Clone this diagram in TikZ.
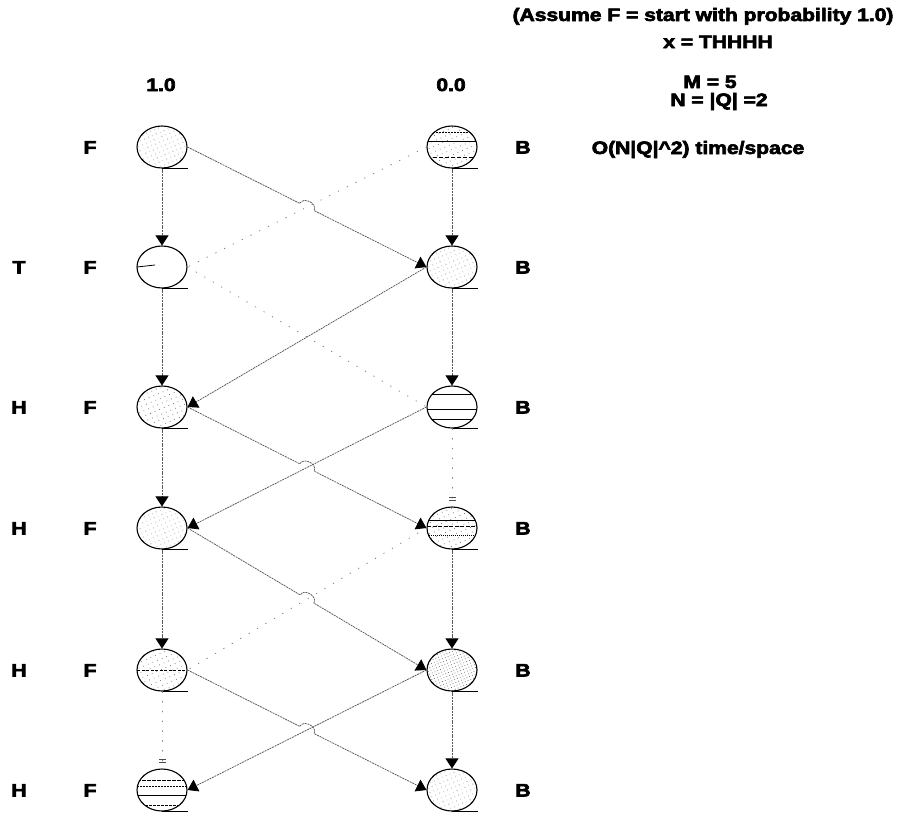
\documentclass[tikz,border=0pt]{standalone}
\usepackage{fontspec}
\setmainfont{Liberation Sans}
\newfontfamily\heavyfont[FakeBold=3.2]{Liberation Sans Bold}
\usetikzlibrary{shapes.geometric,arrows.meta,calc,patterns.meta}

% heavy, slightly widened bold lettering
\newcommand\wide[1]{\scalebox{1.17}[1]{#1}}

\begin{document}
\begin{tikzpicture}[x=1pt,y=-1pt,
  state/.style={ellipse, draw=black, line width=1.1pt, minimum width=50pt,
    minimum height=42pt, inner sep=0pt},
  lbl/.style={font=\fontsize{18}{21}\heavyfont, inner sep=0pt, anchor=base},
  link/.style={draw=black!65, line width=0.75pt, dash pattern=on 2pt off 0.8pt,
    -{Triangle[width=13pt,length=10pt,color=black]}},
  faint/.style={draw=black!50, line width=0.8pt, dash pattern=on 0.8pt off 9pt, line cap=round},
  stub/.style={faint, shorten >=6pt,
    -{Bar[width=7pt,line width=0.8pt,color=black!70,sep=1.5pt] Bar[width=7pt,line width=0.8pt,color=black!70]}},
  speck/.style={pattern={Dots[radius=0.5pt,distance=#1,angle=23]}, pattern color=black!60},
  speck/.default=4pt,
  stripes/.style={path picture={
    \foreach \sy/\pa/\pb in {#1}
      \draw[line width=0.9pt, dash pattern=on \pa pt off \pb pt]
        ([yshift=\sy pt]path picture bounding box.west) -- ([yshift=\sy pt]path picture bounding box.east);}},
  underline/.style={draw=black, line width=1.1pt}
]
\useasboundingbox (0,0) rectangle (901,814);
\fill[white] (0,0) rectangle (901,814);

% ---- states: F column and B column ----
\node[state, speck]                    (F1) at (162,147) {};
\node[state, path picture={\draw[line width=0.8pt] (path picture bounding box.west) -- ++(18pt,2pt);}]
                                       (F2) at (162,267) {};
\node[state, speck=5pt]                (F3) at (162,407) {};
\node[state, speck]                    (F4) at (162,528) {};
\node[state, speck=5pt, stripes={0/3/1.5}]   (F5) at (162,670) {};
\node[state, stripes={10/4/1, 4/2/1, -5/20/0, -15/3/1}]
                                       (F6) at (162,790) {};

\node[state, speck=5pt, stripes={15/2/1, 6/20/0, -10/4/2}]
                                       (B1) at (452,147) {};
\node[state, speck]                    (B2) at (452,267) {};
\node[state, stripes={13/20/0, -2/20/0, -12/20/0}]
                                       (B3) at (452,407) {};
\node[state, speck=5pt, stripes={8/20/0, 2/4/1.5, -7/1/1}]
                                       (B4) at (452,528) {};
\node[state, speck=3pt]                (B5) at (452,670) {};
\node[state, speck]                    (B6) at (452,790) {};

% short base line under each state
\foreach \n in {F1,F2,F3,F4,F5,F6,B1,B2,B3,B4,B5,B6}
  \draw[underline] (\n.south) -- (\n.south -| \n.east);

% ---- vertical transitions ----
\foreach \a/\b in {F1/F2,F2/F3,F3/F4,F4/F5,B1/B2,B2/B3,B4/B5,B5/B6}
  \draw[link] (\a.south) -- (\b.north);
\draw[stub] (F5.south) -- (F6.north);
\draw[stub] (B3.south) -- (B4.north);

% ---- diagonal transitions F -> B, jumping over the crossing line ----
\foreach \a/\b in {F1/B2,F3/B4,F4/B5,F5/B6}{
  \coordinate (ha) at (\a.east);
  \coordinate (hb) at (\b.west);
  \coordinate (hm) at ($(ha)!0.5!(hb)$);
  \coordinate (h1) at ($(hm)!8pt!(ha)$);
  \coordinate (h2) at ($(hm)!8pt!(hb)$);
  \draw[link] (ha) -- (h1) .. controls ($(h1)!8pt!90:(h2)$) and ($(h2)!8pt!-90:(h1)$) .. (h2) -- (hb);
}
% ---- diagonal transitions B -> F ----
\foreach \a/\b in {B2/F3,B3/F4,B5/F6}
  \draw[link] (\a.west) -- (\b.east);

% barely printed transitions
\draw[faint] (B1.west) -- (F2.east);
\draw[faint] (F2.east) -- (B3.west);
\draw[faint] (B4.west) -- (F5.east);

% ---- column headers ----
\node[lbl] (p1) at (161,91) {\wide{1.0}};
\node[lbl] (p0) at (451,91) {\wide{0.0}};

% ---- row labels ----
\foreach \r/\y in {1/147,2/267,3/407,4/528,5/670,6/790}{
  \node[lbl] (lf\r) at (90,\y+6.5) {\wide{F}};
  \node[lbl] (lb\r) at (523,\y+6.5) {\wide{B}};
}
\node[lbl] (x2) at (19,273.5) {\wide{T}};
\foreach \r/\y in {3/407,4/528,5/670,6/790}
  \node[lbl] (x\r) at (19,\y+6.5) {\wide{H}};

% ---- notes ----
\node[lbl] (n1) at (703,21)  {\wide{(Assume F = start with probability 1.0)}};
\node[lbl] (n2) at (718,48)  {\wide{x = THHHH}};
\node[lbl] (n3) at (710,88)  {\wide{M = 5}};
\node[lbl] (n4) at (719,106) {\wide{N = |Q| =2}};
\node[lbl] (n5) at (698,154) {\wide{O(N|Q|\textasciicircum 2) time/space}};
\end{tikzpicture}
\end{document}
